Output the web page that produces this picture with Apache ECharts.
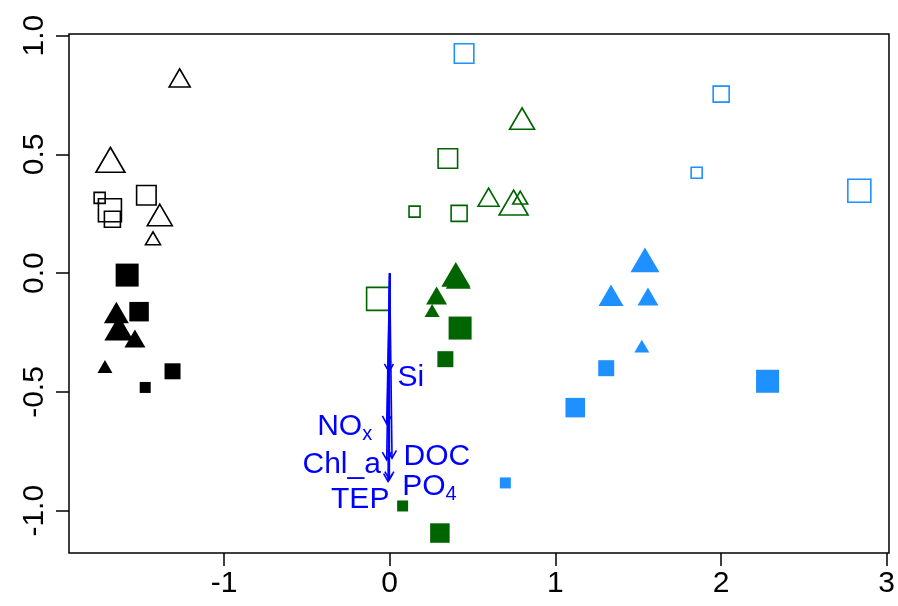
<!DOCTYPE html>
<html><head><meta charset="utf-8">
<script src="https://cdn.jsdelivr.net/npm/echarts@6/dist/echarts.min.js"></script>
<style>html,body{margin:0;padding:0;background:#fff}#c{width:898px;height:606px}</style>
</head><body><div id="c"></div>
<script>
// ---------- data ----------
const xTicks = [-1, 0, 1, 2, 3];
const yTicks = [-1.0, -0.5, 0.0, 0.5, 1.0];

// each point: [axis1, axis2, sizeClass(1..4)]
const blackOpenSquare = [[-1.751, 0.317, 1], [-1.689, 0.265, 4], [-1.674, 0.227, 2], [-1.469, 0.328, 3]];
const blackOpenTriangle = [[-1.268, 0.822, 2], [-1.686, 0.477, 4], [-1.388, 0.245, 3], [-1.429, 0.147, 1]];
const blackFilledSquare = [[-1.585, -0.008, 4], [-1.513, -0.162, 3], [-1.311, -0.413, 2], [-1.476, -0.481, 1]];
const blackFilledTriangle = [[-1.650, -0.165, 3], [-1.635, -0.231, 4], [-1.538, -0.275, 2], [-1.719, -0.393, 1]];

const greenOpenSquare = [[0.351, 0.483, 3], [0.150, 0.259, 1], [0.419, 0.252, 2], [-0.070, -0.108, 4]];
const greenOpenTriangle = [[0.799, 0.651, 3], [0.597, 0.320, 2], [0.748, 0.297, 4], [0.788, 0.318, 1]];
const greenFilledSquare = [[0.425, -0.231, 4], [0.336, -0.362, 2], [0.078, -0.980, 1], [0.303, -1.094, 3]];
const greenFilledTriangle = [[0.399, -0.005, 4], [0.414, -0.020, 3], [0.283, -0.094, 2], [0.256, -0.157, 1]];

const blueOpenSquare = [[0.449, 0.925, 3], [2.001, 0.754, 2], [1.853, 0.423, 1], [2.835, 0.347, 4]];
const blueFilledSquare = [[1.307, -0.400, 2], [2.281, -0.455, 4], [1.120, -0.566, 3], [0.698, -0.883, 1]];
const blueFilledTriangle = [[1.541, 0.056, 4], [1.336, -0.093, 3], [1.559, -0.098, 2], [1.522, -0.307, 1]];

// environmental vectors
const envNames = ['Si', 'NO', 'DOC', 'Chl_a', 'PO', 'TEP'];
const envSubscripts = ['', 'x', '', '', '4', ''];
const envX = [-0.005, -0.018, 0.014, -0.018, -0.002, -0.010];
const envY = [-0.415, -0.634, -0.779, -0.786, -0.868, -0.877];
const envLabelX = [0.128, -0.272, 0.285, -0.290, 0.240, -0.178];
const envLabelY = [-0.439, -0.646, -0.772, -0.807, -0.897, -0.952];

// ---------- styles ----------
const FONT = 'Liberation Sans, Arial, Helvetica, sans-serif';
const COL = { black: '#000000', green: '#006400', blue: '#1E90FF' };
const SQ = [11, 16, 19.5, 23];
const TR = [15, 21, 25, 29];
const sqSize = v => SQ[v[2] - 1];
const trSize = v => { const w = TR[v[2] - 1]; return [w, w * 0.86]; };

function pts(data, color, shape, open) {
  return {
    type: 'scatter',
    data: data,
    symbol: shape === 'square' ? 'rect' : 'triangle',
    symbolSize: shape === 'square' ? sqSize : trSize,
    itemStyle: open
      ? { color: 'rgba(0,0,0,0)', borderColor: color, borderWidth: 1.6, opacity: 1 }
      : { color: color, borderWidth: 0, opacity: 1 },
    emphasis: { disabled: true },
    silent: true,
    z: 3
  };
}

const series = [
  pts(blackOpenSquare, COL.black, 'square', true),
  pts(blackOpenTriangle, COL.black, 'triangle', true),
  pts(blackFilledSquare, COL.black, 'square', false),
  pts(blackFilledTriangle, COL.black, 'triangle', false),
  pts(greenOpenSquare, COL.green, 'square', true),
  pts(greenOpenTriangle, COL.green, 'triangle', true),
  pts(greenFilledSquare, COL.green, 'square', false),
  pts(greenFilledTriangle, COL.green, 'triangle', false),
  pts(blueOpenSquare, COL.blue, 'square', true),
  pts(blueFilledSquare, COL.blue, 'square', false),
  pts(blueFilledTriangle, COL.blue, 'triangle', false),
  {
    type: 'custom',
    silent: true,
    z: 10,
    data: envX.map((x, i) => [x, envY[i]]),
    renderItem: function (params, api) {
      const o = api.coord([0, 0]);
      const e = api.coord([api.value(0), api.value(1)]);
      const ang = Math.atan2(e[1] - o[1], e[0] - o[0]);
      const L = 9, a = Math.PI / 6;
      const p1 = [e[0] - L * Math.cos(ang - a), e[1] - L * Math.sin(ang - a)];
      const p2 = [e[0] - L * Math.cos(ang + a), e[1] - L * Math.sin(ang + a)];
      return {
        type: 'group', children: [
          { type: 'line', shape: { x1: o[0], y1: o[1], x2: e[0], y2: e[1] }, style: { stroke: '#0000FF', lineWidth: 1.6 } },
          { type: 'polyline', shape: { points: [p1, e, p2] }, style: { stroke: '#0000FF', lineWidth: 1.6, fill: null } }
        ]
      };
    }
  },
  {
    type: 'custom',
    silent: true,
    z: 11,
    data: envLabelX.map((x, i) => [x, envLabelY[i], i]),
    renderItem: function (params, api) {
      const i = api.value(2);
      const c = api.coord([api.value(0), api.value(1)]);
      const sub = envSubscripts[i];
      const txt = sub ? '{m|' + envNames[i] + '}{s|' + sub + '}' : '{m|' + envNames[i] + '}';
      return {
        type: 'text',
        x: c[0], y: c[1],
        style: {
          text: txt,
          align: 'center', verticalAlign: 'middle',
          fill: '#0000FF',
          rich: {
            m: { fontSize: 30, fontFamily: FONT, fill: '#0000FF', lineHeight: 36 },
            s: { fontSize: 20, fontFamily: FONT, fill: '#0000FF', lineHeight: 17, verticalAlign: 'bottom' }
          }
        }
      };
    }
  }
];

const chart = echarts.init(document.getElementById('c'), null, { renderer: 'canvas' });
chart.setOption({
  animation: false,
  backgroundColor: '#ffffff',
  grid: { left: 69, right: 8, top: 34, bottom: 53, show: true, borderColor: '#000', borderWidth: 1.5, backgroundColor: 'rgba(0,0,0,0)' },
  xAxis: {
    type: 'value', min: -1.936, max: 3.014,
    splitLine: { show: false },
    axisLine: { show: false, onZero: false },
    axisTick: { show: true, customValues: xTicks, length: 13, lineStyle: { color: '#000', width: 1.5 } },
    axisLabel: { show: true, customValues: xTicks, fontSize: 30, fontFamily: FONT, color: '#000', margin: 16, formatter: v => String(v) }
  },
  yAxis: {
    type: 'value', min: -1.178, max: 1.007,
    splitLine: { show: false },
    axisLine: { show: false, onZero: false },
    axisTick: { show: true, customValues: yTicks, length: 13, lineStyle: { color: '#000', width: 1.5 } },
    axisLabel: { show: true, customValues: yTicks, rotate: 90, fontSize: 30, fontFamily: FONT, color: '#000', margin: 19, formatter: v => v.toFixed(1) }
  },
  series: series
});
</script>
</body></html>
